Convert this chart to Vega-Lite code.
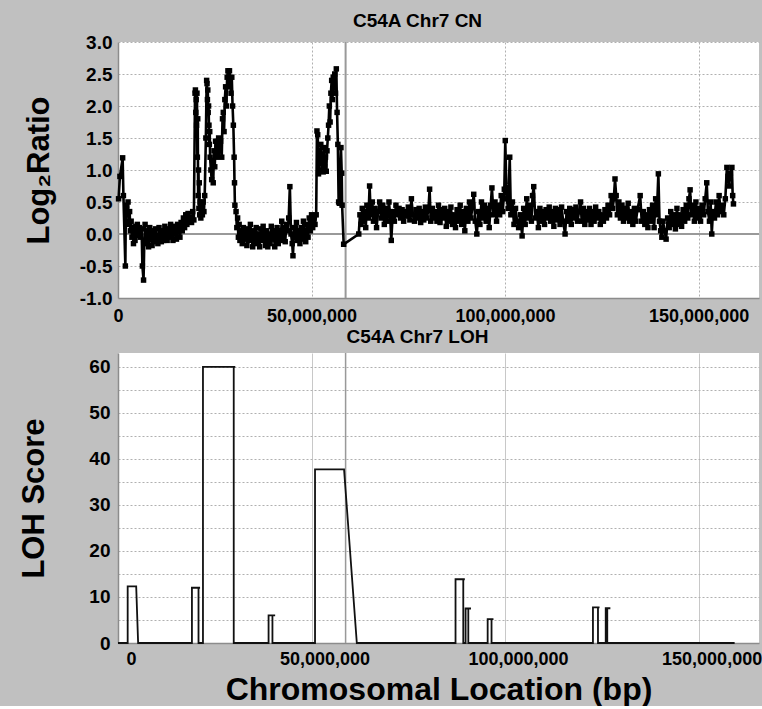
{
  "$schema": "https://vega.github.io/schema/vega-lite/v6.json",
  "background": "#c0c0c0",
  "padding": {"left": 18, "top": 12, "right": 0, "bottom": 1},
  "config": {
    "font": "Liberation Sans",
    "view": {"fill": "white", "stroke": null},
    "axis": {
      "labelFont": "Liberation Sans", "labelFontWeight": "bold", "labelColor": "black", "labelFontSize": 18, "labelOverlap": false,
      "titleFont": "Liberation Sans", "titleFontWeight": "bold", "titleColor": "black",
      "ticks": false, "domainColor": "#8c8c8c", "domainWidth": 1.5, "gridColor": "#b0b0b0", "gridOpacity": 1, "labelFlush": false
    },
    "title": {"font": "Liberation Sans", "fontWeight": "bold", "fontSize": 19, "color": "black"},
    "concat": {"spacing": 3}
  },
  "datasets": {
    "refs": [{"zero": 0, "centromere": 58800000}],
    "cn": [
      {"pos":0.15e6,"ratio":0.55},{"pos":0.5e6,"ratio":0.9},{"pos":1.2e6,"ratio":1.19},{"pos":1.4e6,"ratio":0.6},{"pos":1.9e6,"ratio":-0.5},{"pos":2.0e6,"ratio":0.2},{"pos":2.2e6,"ratio":0.45},{"pos":2.4e6,"ratio":0.3},{"pos":2.6e6,"ratio":0.5},{"pos":2.8e6,"ratio":0.15},{"pos":3.0e6,"ratio":0.35},{"pos":3.2e6,"ratio":0.05},{"pos":3.4e6,"ratio":0.2},{"pos":3.6e6,"ratio":-0.05},{"pos":3.8e6,"ratio":0.1},{"pos":4.0e6,"ratio":-0.15},{"pos":4.2e6,"ratio":0.05},{"pos":4.4e6,"ratio":-0.1},{"pos":4.6e6,"ratio":0.12},{"pos":4.8e6,"ratio":-0.02},{"pos":5.0e6,"ratio":0.15},{"pos":5.2e6,"ratio":0.05},{"pos":5.5e6,"ratio":0.1},{"pos":5.8e6,"ratio":-0.05},{"pos":6.1e6,"ratio":0.08},{"pos":6.3e6,"ratio":-0.5},{"pos":6.6e6,"ratio":-0.72},{"pos":6.8e6,"ratio":-0.1},{"pos":7.0e6,"ratio":0.15},{"pos":7.3e6,"ratio":-0.15},{"pos":7.6e6,"ratio":0.05},{"pos":7.9e6,"ratio":-0.2},{"pos":8.2e6,"ratio":0.1},{"pos":8.5e6,"ratio":-0.05},{"pos":8.8e6,"ratio":-0.18},{"pos":9.1e6,"ratio":0.05},{"pos":9.4e6,"ratio":-0.12},{"pos":9.7e6,"ratio":0.08},{"pos":10.0e6,"ratio":-0.08},{"pos":10.3e6,"ratio":-0.15},{"pos":10.6e6,"ratio":0.1},{"pos":10.9e6,"ratio":-0.05},{"pos":11.2e6,"ratio":-0.12},{"pos":11.5e6,"ratio":0.05},{"pos":11.8e6,"ratio":-0.1},{"pos":12.1e6,"ratio":0.12},{"pos":12.4e6,"ratio":-0.02},{"pos":12.7e6,"ratio":-0.1},{"pos":13.0e6,"ratio":0.08},{"pos":13.3e6,"ratio":-0.05},{"pos":13.6e6,"ratio":0.15},{"pos":13.9e6,"ratio":0.0},{"pos":14.2e6,"ratio":-0.1},{"pos":14.5e6,"ratio":0.12},{"pos":14.8e6,"ratio":0.02},{"pos":15.1e6,"ratio":-0.08},{"pos":15.4e6,"ratio":0.15},{"pos":15.7e6,"ratio":0.05},{"pos":16.0e6,"ratio":-0.05},{"pos":16.3e6,"ratio":0.18},{"pos":16.6e6,"ratio":0.05},{"pos":16.9e6,"ratio":0.25},{"pos":17.2e6,"ratio":0.1},{"pos":17.5e6,"ratio":0.3},{"pos":17.8e6,"ratio":0.15},{"pos":18.1e6,"ratio":0.32},{"pos":18.4e6,"ratio":0.2},{"pos":18.7e6,"ratio":0.25},{"pos":19.0e6,"ratio":0.18},{"pos":19.3e6,"ratio":0.35},{"pos":19.6e6,"ratio":0.22},
      {"pos":19.9e6,"ratio":2.2},{"pos":20.0e6,"ratio":2.25},{"pos":20.1e6,"ratio":1.9},{"pos":20.2e6,"ratio":2.1},{"pos":20.3e6,"ratio":1.7},{"pos":20.4e6,"ratio":2.2},{"pos":20.5e6,"ratio":1.2},{"pos":20.6e6,"ratio":1.8},{"pos":20.7e6,"ratio":0.6},{"pos":20.8e6,"ratio":1.0},{"pos":20.9e6,"ratio":0.4},{"pos":21.0e6,"ratio":0.8},{"pos":21.1e6,"ratio":0.3},{"pos":21.2e6,"ratio":0.5},{"pos":21.4e6,"ratio":0.25},{"pos":21.6e6,"ratio":0.45},{"pos":21.8e6,"ratio":0.3},{"pos":22.0e6,"ratio":0.5},{"pos":22.2e6,"ratio":0.35},{"pos":22.4e6,"ratio":0.6},{"pos":22.7e6,"ratio":1.5},{"pos":22.9e6,"ratio":2.4},{"pos":23.0e6,"ratio":2.35},{"pos":23.1e6,"ratio":2.1},{"pos":23.2e6,"ratio":2.25},{"pos":23.3e6,"ratio":1.9},{"pos":23.4e6,"ratio":2.0},{"pos":23.5e6,"ratio":1.7},{"pos":23.6e6,"ratio":1.4},{"pos":23.7e6,"ratio":1.6},{"pos":23.8e6,"ratio":1.2},{"pos":24.0e6,"ratio":1.0},{"pos":24.2e6,"ratio":0.85},{"pos":24.4e6,"ratio":1.15},{"pos":24.6e6,"ratio":0.8},{"pos":24.8e6,"ratio":1.3},{"pos":25.0e6,"ratio":1.05},{"pos":25.2e6,"ratio":1.45},{"pos":25.4e6,"ratio":1.2},{"pos":25.6e6,"ratio":1.4},{"pos":25.8e6,"ratio":1.25},{"pos":26.0e6,"ratio":1.5},{"pos":26.2e6,"ratio":1.3},{"pos":26.5e6,"ratio":1.45},{"pos":26.8e6,"ratio":1.2},{"pos":27.0e6,"ratio":1.8},{"pos":27.2e6,"ratio":1.9},{"pos":27.4e6,"ratio":1.6},{"pos":27.6e6,"ratio":2.1},{"pos":27.8e6,"ratio":2.3},{"pos":28.0e6,"ratio":2.0},{"pos":28.2e6,"ratio":2.45},{"pos":28.4e6,"ratio":2.55},{"pos":28.6e6,"ratio":2.3},{"pos":28.8e6,"ratio":2.55},{"pos":29.0e6,"ratio":2.4},{"pos":29.2e6,"ratio":2.2},{"pos":29.4e6,"ratio":2.45},{"pos":29.6e6,"ratio":2.0},{"pos":29.8e6,"ratio":1.7},{"pos":30.0e6,"ratio":1.2},{"pos":30.1e6,"ratio":0.8},{"pos":30.2e6,"ratio":0.45},
      {"pos":30.5e6,"ratio":0.35},{"pos":30.7e6,"ratio":0.1},{"pos":30.9e6,"ratio":0.25},{"pos":31.1e6,"ratio":-0.05},{"pos":31.3e6,"ratio":0.15},{"pos":31.5e6,"ratio":-0.1},{"pos":31.8e6,"ratio":0.05},{"pos":32.1e6,"ratio":-0.15},{"pos":32.4e6,"ratio":0.1},{"pos":32.7e6,"ratio":-0.08},{"pos":33.0e6,"ratio":0.02},{"pos":33.3e6,"ratio":-0.18},{"pos":33.6e6,"ratio":0.08},{"pos":33.9e6,"ratio":-0.1},{"pos":34.2e6,"ratio":0.15},{"pos":34.5e6,"ratio":-0.05},{"pos":34.8e6,"ratio":-0.2},{"pos":35.1e6,"ratio":0.05},{"pos":35.4e6,"ratio":-0.12},{"pos":35.7e6,"ratio":0.1},{"pos":36.0e6,"ratio":-0.15},{"pos":36.3e6,"ratio":0.0},{"pos":36.6e6,"ratio":-0.2},{"pos":36.9e6,"ratio":0.08},{"pos":37.2e6,"ratio":-0.1},{"pos":37.5e6,"ratio":0.12},{"pos":37.8e6,"ratio":-0.05},{"pos":38.1e6,"ratio":-0.18},{"pos":38.4e6,"ratio":0.05},{"pos":38.7e6,"ratio":-0.2},{"pos":39.0e6,"ratio":0.0},{"pos":39.3e6,"ratio":-0.15},{"pos":39.6e6,"ratio":0.12},{"pos":39.9e6,"ratio":-0.08},{"pos":40.2e6,"ratio":0.05},{"pos":40.5e6,"ratio":-0.2},{"pos":40.8e6,"ratio":-0.05},{"pos":41.1e6,"ratio":0.1},{"pos":41.4e6,"ratio":-0.15},{"pos":41.7e6,"ratio":0.05},{"pos":42.0e6,"ratio":-0.1},{"pos":42.3e6,"ratio":0.2},{"pos":42.6e6,"ratio":-0.05},{"pos":42.9e6,"ratio":0.1},{"pos":43.2e6,"ratio":-0.12},{"pos":43.5e6,"ratio":0.15},{"pos":43.8e6,"ratio":0.05},{"pos":44.1e6,"ratio":0.25},{"pos":44.4e6,"ratio":0.74},{"pos":44.7e6,"ratio":0.0},{"pos":45.0e6,"ratio":-0.15},{"pos":45.2e6,"ratio":-0.34},{"pos":45.5e6,"ratio":0.1},{"pos":45.8e6,"ratio":-0.05},{"pos":46.1e6,"ratio":0.18},{"pos":46.4e6,"ratio":-0.1},{"pos":46.7e6,"ratio":0.05},{"pos":47.0e6,"ratio":-0.15},{"pos":47.3e6,"ratio":0.1},{"pos":47.6e6,"ratio":-0.08},{"pos":47.9e6,"ratio":0.2},{"pos":48.2e6,"ratio":0.0},{"pos":48.5e6,"ratio":-0.12},{"pos":48.8e6,"ratio":0.15},{"pos":49.1e6,"ratio":-0.05},{"pos":49.4e6,"ratio":0.25},{"pos":49.7e6,"ratio":0.05},{"pos":50.0e6,"ratio":0.3},{"pos":50.3e6,"ratio":0.1},{"pos":50.6e6,"ratio":0.25},{"pos":50.9e6,"ratio":0.15},
      {"pos":51.2e6,"ratio":0.3},{"pos":51.4e6,"ratio":1.61},{"pos":51.6e6,"ratio":1.55},{"pos":51.8e6,"ratio":0.94},{"pos":52.0e6,"ratio":1.3},{"pos":52.2e6,"ratio":1.1},{"pos":52.4e6,"ratio":1.4},{"pos":52.6e6,"ratio":1.0},{"pos":52.8e6,"ratio":1.25},{"pos":53.0e6,"ratio":0.97},{"pos":53.2e6,"ratio":1.35},{"pos":53.4e6,"ratio":1.05},{"pos":53.6e6,"ratio":1.2},{"pos":53.8e6,"ratio":0.98},{"pos":54.0e6,"ratio":1.3},{"pos":54.2e6,"ratio":1.5},{"pos":54.4e6,"ratio":1.7},{"pos":54.6e6,"ratio":2.0},{"pos":54.8e6,"ratio":1.75},{"pos":55.0e6,"ratio":2.2},{"pos":55.2e6,"ratio":2.4},{"pos":55.4e6,"ratio":2.1},{"pos":55.6e6,"ratio":2.45},{"pos":55.8e6,"ratio":2.3},{"pos":56.0e6,"ratio":2.5},{"pos":56.2e6,"ratio":2.2},{"pos":56.4e6,"ratio":2.58},{"pos":56.6e6,"ratio":1.9},{"pos":56.8e6,"ratio":1.4},{"pos":57.0e6,"ratio":0.5},{"pos":57.2e6,"ratio":0.48},{"pos":57.6e6,"ratio":1.35},{"pos":57.8e6,"ratio":0.95},{"pos":57.9e6,"ratio":0.45},{"pos":58.3e6,"ratio":-0.16},
      {"pos":62.2e6,"ratio":0.0},{"pos":62.5e6,"ratio":0.3},{"pos":62.8e6,"ratio":0.15},{"pos":63.1e6,"ratio":0.4},{"pos":63.4e6,"ratio":0.2},{"pos":63.7e6,"ratio":0.35},{"pos":64.0e6,"ratio":0.1},{"pos":64.3e6,"ratio":0.45},{"pos":64.7e6,"ratio":0.25},{"pos":65.0e6,"ratio":0.75},{"pos":65.3e6,"ratio":0.3},{"pos":65.7e6,"ratio":0.5},{"pos":66.0e6,"ratio":0.2},{"pos":66.4e6,"ratio":0.4},{"pos":66.8e6,"ratio":0.1},{"pos":67.2e6,"ratio":0.35},{"pos":67.6e6,"ratio":0.5},{"pos":68.0e6,"ratio":0.25},{"pos":68.4e6,"ratio":0.45},{"pos":68.8e6,"ratio":0.15},{"pos":69.2e6,"ratio":0.4},{"pos":69.6e6,"ratio":0.2},{"pos":70.0e6,"ratio":0.5},{"pos":70.3e6,"ratio":0.3},{"pos":70.6e6,"ratio":-0.1},{"pos":71.0e6,"ratio":0.35},{"pos":71.4e6,"ratio":0.2},{"pos":71.8e6,"ratio":0.45},{"pos":72.2e6,"ratio":0.3},{"pos":72.6e6,"ratio":0.4},{"pos":73.0e6,"ratio":0.25},{"pos":73.4e6,"ratio":0.38},{"pos":73.8e6,"ratio":0.2},{"pos":74.2e6,"ratio":0.35},{"pos":74.6e6,"ratio":0.28},{"pos":75.0e6,"ratio":0.42},{"pos":75.4e6,"ratio":0.22},{"pos":75.8e6,"ratio":0.55},{"pos":76.2e6,"ratio":0.3},{"pos":76.6e6,"ratio":0.2},{"pos":77.0e6,"ratio":0.38},{"pos":77.4e6,"ratio":0.25},{"pos":77.8e6,"ratio":0.4},{"pos":78.2e6,"ratio":0.18},{"pos":78.6e6,"ratio":0.35},{"pos":79.0e6,"ratio":0.22},{"pos":79.4e6,"ratio":0.42},{"pos":79.8e6,"ratio":0.25},{"pos":80.2e6,"ratio":0.38},{"pos":80.5e6,"ratio":0.7},{"pos":80.8e6,"ratio":0.2},{"pos":81.2e6,"ratio":0.4},{"pos":81.6e6,"ratio":0.25},{"pos":82.0e6,"ratio":0.35},{"pos":82.4e6,"ratio":0.2},{"pos":82.8e6,"ratio":0.45},{"pos":83.2e6,"ratio":0.18},{"pos":83.6e6,"ratio":0.38},{"pos":84.0e6,"ratio":0.25},{"pos":84.4e6,"ratio":0.4},{"pos":84.8e6,"ratio":0.12},{"pos":85.2e6,"ratio":0.35},{"pos":85.6e6,"ratio":0.2},{"pos":86.0e6,"ratio":0.42},{"pos":86.4e6,"ratio":0.15},{"pos":86.8e6,"ratio":0.3},{"pos":87.2e6,"ratio":0.1},{"pos":87.6e6,"ratio":0.38},{"pos":88.0e6,"ratio":0.2},{"pos":88.4e6,"ratio":0.45},{"pos":88.8e6,"ratio":0.15},{"pos":89.2e6,"ratio":0.35},{"pos":89.6e6,"ratio":0.05},{"pos":90.0e6,"ratio":0.4},{"pos":90.4e6,"ratio":0.2},{"pos":90.8e6,"ratio":0.5},{"pos":91.2e6,"ratio":0.25},{"pos":91.6e6,"ratio":0.45},{"pos":91.9e6,"ratio":0.62},{"pos":92.3e6,"ratio":0.2},{"pos":92.7e6,"ratio":0.0},{"pos":93.1e6,"ratio":0.35},{"pos":93.5e6,"ratio":0.15},{"pos":93.9e6,"ratio":0.5},{"pos":94.3e6,"ratio":0.25},{"pos":94.7e6,"ratio":0.45},{"pos":95.1e6,"ratio":0.2},{"pos":95.5e6,"ratio":0.4},{"pos":95.9e6,"ratio":0.1},{"pos":96.3e6,"ratio":0.45},{"pos":96.6e6,"ratio":0.72},{"pos":97.0e6,"ratio":0.3},{"pos":97.4e6,"ratio":0.5},{"pos":97.8e6,"ratio":0.2},{"pos":98.2e6,"ratio":0.45},{"pos":98.6e6,"ratio":0.3},{"pos":99.0e6,"ratio":0.6},{"pos":99.4e6,"ratio":0.35},{"pos":99.8e6,"ratio":0.7},{"pos":100.05e6,"ratio":1.46},{"pos":100.4e6,"ratio":0.55},{"pos":100.8e6,"ratio":0.4},{"pos":101.2e6,"ratio":1.2},{"pos":101.5e6,"ratio":0.3},{"pos":101.9e6,"ratio":0.5},{"pos":102.3e6,"ratio":0.15},{"pos":102.7e6,"ratio":0.4},{"pos":103.1e6,"ratio":0.2},{"pos":103.5e6,"ratio":0.1},{"pos":104.0e6,"ratio":0.3},{"pos":104.4e6,"ratio":-0.03},{"pos":104.8e6,"ratio":0.4},{"pos":105.2e6,"ratio":0.15},{"pos":105.6e6,"ratio":0.55},{"pos":106.0e6,"ratio":0.25},{"pos":106.4e6,"ratio":0.45},{"pos":106.8e6,"ratio":0.2},{"pos":107.1e6,"ratio":0.6},{"pos":107.4e6,"ratio":0.74},{"pos":107.8e6,"ratio":0.25},{"pos":108.2e6,"ratio":0.35},{"pos":108.6e6,"ratio":0.1},{"pos":109.0e6,"ratio":0.4},{"pos":109.4e6,"ratio":0.2},{"pos":109.8e6,"ratio":0.35},{"pos":110.2e6,"ratio":0.15},{"pos":110.6e6,"ratio":0.38},{"pos":111.0e6,"ratio":0.25},{"pos":111.4e6,"ratio":0.42},{"pos":111.8e6,"ratio":0.2},{"pos":112.2e6,"ratio":0.35},{"pos":112.6e6,"ratio":0.12},{"pos":113.0e6,"ratio":0.4},{"pos":113.4e6,"ratio":0.22},{"pos":113.8e6,"ratio":0.38},{"pos":114.2e6,"ratio":0.15},{"pos":114.6e6,"ratio":0.42},{"pos":115.0e6,"ratio":0.2},{"pos":115.5e6,"ratio":0.0},{"pos":115.9e6,"ratio":0.35},{"pos":116.3e6,"ratio":0.2},{"pos":116.7e6,"ratio":0.4},{"pos":117.1e6,"ratio":0.15},{"pos":117.5e6,"ratio":0.38},{"pos":117.9e6,"ratio":0.25},{"pos":118.3e6,"ratio":0.42},{"pos":118.7e6,"ratio":0.2},{"pos":119.1e6,"ratio":0.35},{"pos":119.5e6,"ratio":0.5},{"pos":119.8e6,"ratio":0.2},{"pos":120.2e6,"ratio":0.4},{"pos":120.6e6,"ratio":0.15},{"pos":121.0e6,"ratio":0.35},{"pos":121.4e6,"ratio":0.22},{"pos":121.8e6,"ratio":0.4},{"pos":122.2e6,"ratio":0.15},{"pos":122.6e6,"ratio":0.35},{"pos":123.0e6,"ratio":0.2},{"pos":123.4e6,"ratio":0.42},{"pos":123.8e6,"ratio":0.25},{"pos":124.2e6,"ratio":0.35},{"pos":124.6e6,"ratio":0.15},{"pos":125.0e6,"ratio":0.3},{"pos":125.4e6,"ratio":0.2},{"pos":125.8e6,"ratio":0.38},{"pos":126.2e6,"ratio":0.25},{"pos":126.6e6,"ratio":0.45},{"pos":127.0e6,"ratio":0.3},{"pos":127.4e6,"ratio":0.6},{"pos":127.8e6,"ratio":0.4},{"pos":128.1e6,"ratio":0.55},{"pos":128.4e6,"ratio":0.86},{"pos":128.7e6,"ratio":0.6},{"pos":129.0e6,"ratio":0.3},{"pos":129.4e6,"ratio":0.5},{"pos":129.8e6,"ratio":0.25},{"pos":130.2e6,"ratio":0.45},{"pos":130.6e6,"ratio":0.2},{"pos":131.0e6,"ratio":0.4},{"pos":131.4e6,"ratio":0.25},{"pos":131.8e6,"ratio":0.48},{"pos":132.2e6,"ratio":0.2},{"pos":132.6e6,"ratio":0.35},{"pos":133.0e6,"ratio":0.15},{"pos":133.4e6,"ratio":0.4},{"pos":133.8e6,"ratio":0.2},{"pos":134.2e6,"ratio":0.38},{"pos":134.9e6,"ratio":0.6},{"pos":135.3e6,"ratio":0.2},{"pos":135.7e6,"ratio":0.35},{"pos":136.1e6,"ratio":0.15},{"pos":136.5e6,"ratio":0.3},{"pos":136.9e6,"ratio":0.1},{"pos":137.3e6,"ratio":0.38},{"pos":137.7e6,"ratio":0.2},{"pos":138.1e6,"ratio":0.45},{"pos":138.5e6,"ratio":0.1},{"pos":138.9e6,"ratio":0.55},{"pos":139.2e6,"ratio":0.3},{"pos":139.6e6,"ratio":0.94},{"pos":139.9e6,"ratio":0.2},{"pos":140.2e6,"ratio":0.05},{"pos":140.5e6,"ratio":-0.05},{"pos":140.8e6,"ratio":0.2},{"pos":141.2e6,"ratio":0.05},{"pos":141.6e6,"ratio":-0.08},{"pos":142.0e6,"ratio":0.25},{"pos":142.4e6,"ratio":0.1},{"pos":142.8e6,"ratio":0.35},{"pos":143.2e6,"ratio":0.15},{"pos":143.6e6,"ratio":0.3},{"pos":144.0e6,"ratio":0.08},{"pos":144.4e6,"ratio":0.4},{"pos":144.8e6,"ratio":0.15},{"pos":145.2e6,"ratio":0.3},{"pos":145.6e6,"ratio":0.12},{"pos":146.0e6,"ratio":0.38},{"pos":146.4e6,"ratio":0.2},{"pos":146.8e6,"ratio":0.45},{"pos":147.2e6,"ratio":0.25},{"pos":147.5e6,"ratio":0.55},{"pos":147.8e6,"ratio":0.69},{"pos":148.1e6,"ratio":0.3},{"pos":148.5e6,"ratio":0.45},{"pos":148.9e6,"ratio":0.2},{"pos":149.3e6,"ratio":0.5},{"pos":149.7e6,"ratio":0.25},{"pos":150.1e6,"ratio":0.4},{"pos":150.5e6,"ratio":0.2},{"pos":150.9e6,"ratio":0.45},{"pos":151.3e6,"ratio":0.3},{"pos":151.7e6,"ratio":0.55},{"pos":152.1e6,"ratio":0.8},{"pos":152.4e6,"ratio":0.35},{"pos":152.8e6,"ratio":0.2},{"pos":153.1e6,"ratio":0.5},{"pos":153.4e6,"ratio":0.0},{"pos":153.7e6,"ratio":0.35},{"pos":154.1e6,"ratio":0.25},{"pos":154.5e6,"ratio":0.5},{"pos":154.9e6,"ratio":0.3},{"pos":155.3e6,"ratio":0.6},{"pos":155.7e6,"ratio":0.35},{"pos":156.1e6,"ratio":0.45},{"pos":156.5e6,"ratio":0.3},{"pos":156.9e6,"ratio":0.55},{"pos":157.3e6,"ratio":1.04},{"pos":157.6e6,"ratio":0.9},{"pos":157.9e6,"ratio":0.75},{"pos":158.2e6,"ratio":0.95},{"pos":158.6e6,"ratio":1.04},{"pos":158.8e6,"ratio":0.6},{"pos":159.0e6,"ratio":0.47}
    ],
    "loh": [
      {"pos":0,"score":0},{"pos":2.5e6,"score":0},{"pos":2.5e6,"score":12.3},{"pos":4.7e6,"score":12.3},{"pos":5.2e6,"score":0},
      {"pos":19.1e6,"score":0},{"pos":19.1e6,"score":12},{"pos":21.2e6,"score":12},{"pos":20.8e6,"score":12},{"pos":20.8e6,"score":0},
      {"pos":21.95e6,"score":0},{"pos":21.95e6,"score":60},{"pos":30.3e6,"score":60},{"pos":29.9e6,"score":60},{"pos":29.9e6,"score":0},
      {"pos":38.9e6,"score":0},{"pos":38.9e6,"score":6},{"pos":40.6e6,"score":6},{"pos":39.9e6,"score":6},{"pos":39.9e6,"score":0},
      {"pos":50.9e6,"score":0},{"pos":50.9e6,"score":37.7},{"pos":58.4e6,"score":37.7},{"pos":61.7e6,"score":0},
      {"pos":87.2e6,"score":0},{"pos":87.2e6,"score":13.85},{"pos":89.6e6,"score":13.85},{"pos":89.2e6,"score":13.85},{"pos":89.2e6,"score":0},
      {"pos":89.8e6,"score":0},{"pos":89.8e6,"score":7.5},{"pos":91.2e6,"score":7.5},{"pos":90.5e6,"score":7.5},{"pos":90.5e6,"score":0},
      {"pos":95.5e6,"score":0},{"pos":95.5e6,"score":5.2},{"pos":97.0e6,"score":5.2},{"pos":96.5e6,"score":5.2},{"pos":96.5e6,"score":0},
      {"pos":122.7e6,"score":0},{"pos":122.7e6,"score":7.75},{"pos":124.4e6,"score":7.75},{"pos":124.0e6,"score":7.75},{"pos":124.0e6,"score":0},
      {"pos":126.0e6,"score":0},{"pos":126.0e6,"score":7.55},{"pos":127.2e6,"score":7.55},{"pos":126.4e6,"score":7.55},{"pos":126.4e6,"score":0},
      {"pos":159.3e6,"score":0}
    ]
  },
  "vconcat": [
    {
      "width": 641,
      "height": 256,
      "title": {"text": "C54A Chr7 CN", "dx": -21, "offset": 2},
      "encoding": {
        "x": {"type": "quantitative",
          "scale": {"domain": [0, 165600000], "nice": false, "zero": false},
          "axis": {"values": [0, 50000000, 100000000, 150000000], "format": ",.0f", "title": null, "grid": true, "gridDash": [2, 2], "labelPadding": 9}},
        "y": {"type": "quantitative",
          "scale": {"domain": [-1, 3], "nice": false},
          "axis": {"values": [-1, -0.5, 0, 0.5, 1, 1.5, 2, 2.5, 3],
            "labelExpr": "(datum.value < 0 ? '-' : '') + format(abs(datum.value), '.1f')",
            "labelFontSize": 19, "labelPadding": 6,
            "title": "Log₂Ratio", "titleFontSize": 31, "titlePadding": 24,
            "grid": true, "gridDash": [2, 2]}}
      },
      "layer": [
        {
          "data": {"name": "refs"},
          "mark": {"type": "rule", "color": "#999999", "strokeWidth": 2},
          "encoding": {"y": {"field": "zero"}, "x": null}
        },
        {
          "data": {"name": "refs"},
          "mark": {"type": "rule", "color": "#999999", "strokeWidth": 2},
          "encoding": {"x": {"field": "centromere"}, "y": null}
        },
        {
          "data": {"name": "cn"},
          "mark": {"type": "line", "color": "black", "strokeWidth": 2.6, "point": {"shape": "square", "size": 30, "filled": true, "color": "black"}},
          "encoding": {
            "x": {"field": "pos"},
            "y": {"field": "ratio"}
          }
        }
      ]
    },
    {
      "width": 641,
      "height": 290,
      "title": {"text": "C54A Chr7 LOH", "dx": -21, "offset": 5},
      "encoding": {
        "x": {"type": "quantitative",
          "scale": {"domain": [0, 165600000], "nice": false, "zero": false},
          "axis": {"values": [0, 50000000, 100000000, 150000000], "format": ",.0f", "grid": true, "gridColor": "#c8c8c8",
            "labelPadding": 7, "labelOffset": 13, "labelFontSize": 18,
            "title": "Chromosomal Location (bp)", "titleFontSize": 32, "titlePadding": 6}},
        "y": {"type": "quantitative",
          "scale": {"domain": [0, 63], "nice": false},
          "axis": {"values": [0, 5, 10, 15, 20, 25, 30, 35, 40, 45, 50, 55, 60],
            "labelExpr": "datum.value % 10 === 0 ? datum.label : ''",
            "labelFontSize": 19, "labelPadding": 8,
            "title": "LOH Score", "titleFontSize": 31, "titlePadding": 38,
            "grid": true, "gridDash": [2, 2]}}
      },
      "layer": [
        {
          "data": {"name": "refs"},
          "mark": {"type": "rule", "color": "#999999", "strokeWidth": 1.5},
          "encoding": {"x": {"field": "centromere"}, "y": null}
        },
        {
          "data": {"name": "loh"},
          "mark": {"type": "line", "color": "#111111", "strokeWidth": 1.8},
          "encoding": {
            "order": {"value": null},
            "x": {"field": "pos"},
            "y": {"field": "score"}
          }
        }
      ]
    }
  ]
}
